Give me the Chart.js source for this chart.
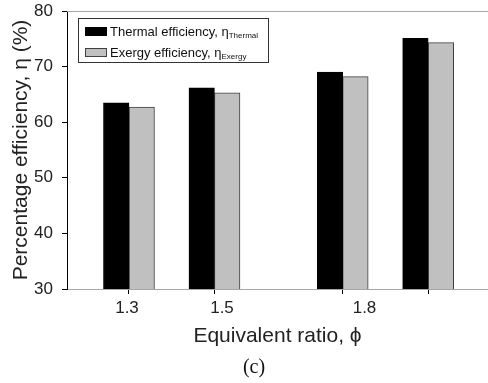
<!DOCTYPE html>
<html>
<head>
<meta charset="utf-8">
<script src="https://cdn.jsdelivr.net/npm/chart.js@4"></script>
<style>
  body { margin: 0; background: #fff; }
</style>
</head>
<body>
<canvas id="effChart" width="488" height="383"></canvas>
<script>
// data
var groupPositions = [1.3, 1.5, 1.8, 2.0];
var tickLabels = ['1.3', '1.5', '1.8'];
var thermalEff = [63.5, 66.2, 69.0, 75.1];
var exergyEff = [62.7, 65.3, 68.2, 74.3];
var yTicks = [30, 40, 50, 60, 70, 80];

function toPoints(values) {
    return values.map(function(v, i) {
        return { x: groupPositions[i], y: v };
    });
}

// fixed box sizes, no extra layout padding from labels
function fixBox(w, h) {
    return function(scale) {
        if (w !== null) scale.width = w;
        if (h !== null) scale.height = h;
        scale.paddingTop = 0;
        scale.paddingBottom = 0;
        scale.paddingLeft = 0;
        scale.paddingRight = 0;
    };
}

var sans = "'Liberation Sans', Arial, sans-serif";

// legend with subscripts + top frame line + caption
var extras = {
    id: 'extras',
    afterDraw: function(chart) {
        var ctx = chart.ctx;
        var area = chart.chartArea;
        ctx.save();

        // top frame line
        ctx.strokeStyle = '#a6a6a6';
        ctx.lineWidth = 1;
        ctx.beginPath();
        ctx.moveTo(area.left, area.top + 0.5);
        ctx.lineTo(area.right, area.top + 0.5);
        ctx.stroke();

        // legend box
        ctx.fillStyle = '#fff';
        ctx.fillRect(78, 18, 190, 44);
        ctx.strokeStyle = '#333';
        ctx.strokeRect(78.5, 18.5, 190, 44);

        var rows = [36, 57];
        chart.data.datasets.forEach(function(ds, i) {
            var base = rows[i];
            ctx.fillStyle = ds.backgroundColor;
            ctx.fillRect(85, base - 8, 22, 8);
            ctx.strokeStyle = ds.borderColor;
            ctx.strokeRect(85.5, base - 8.5, 21, 8);

            ctx.fillStyle = '#111';
            ctx.textBaseline = 'alphabetic';
            ctx.font = '13px ' + sans;
            ctx.fillText(ds.label, 110, base);
            var w = ctx.measureText(ds.label).width;
            ctx.font = '8px ' + sans;
            ctx.fillText(ds.sub, 110 + w, base + 2);
        });

        // caption
        ctx.fillStyle = '#111';
        ctx.font = "20px 'Liberation Serif', 'Times New Roman', serif";
        ctx.textAlign = 'center';
        ctx.textBaseline = 'middle';
        ctx.fillText('(c)', 254, 368);
        ctx.restore();
    }
};

var ctx = document.getElementById('effChart').getContext('2d');
var effChart = new Chart(ctx, {
    type: 'bar',
    data: {
        datasets: [{
            label: 'Thermal efficiency, η',
            sub: 'Thermal',
            data: toPoints(thermalEff),
            backgroundColor: '#000000',
            borderColor: '#000000',
            borderWidth: 1,
            barThickness: 25.5,
            barPercentage: 1
        }, {
            label: 'Exergy efficiency, η',
            sub: 'Exergy',
            data: toPoints(exergyEff),
            backgroundColor: '#c0c0c0',
            borderColor: '#404040',
            borderWidth: 1,
            barThickness: 25.5,
            barPercentage: 1
        }]
    },
    options: {
        responsive: false,
        devicePixelRatio: 1,
        animation: false,
        layout: { padding: { top: 11, right: 0, left: 0, bottom: 0 } },
        plugins: {
            legend: { display: false },
            tooltip: { enabled: false }
        },
        scales: {
            x: {
                type: 'linear',
                position: 'bottom',
                offset: false,
                min: 1.155,
                max: 2.14,
                afterBuildTicks: function(scale) {
                    scale.ticks = groupPositions.map(function(v) { return { value: v }; });
                },
                afterFit: fixBox(null, 6),
                ticks: { maxRotation: 0, autoSkip: false, callback: function() { return ''; } },
                grid: { offset: false, drawOnChartArea: false, drawTicks: true, tickLength: 5, color: '#000' },
                border: { color: '#a6a6a6', width: 1 }
            },
            xLabels: {
                type: 'linear',
                position: 'bottom',
                offset: false,
                min: 1.1737,
                max: 2.06,
                afterBuildTicks: function(scale) {
                    scale.ticks = tickLabels.map(function(l) { return { value: parseFloat(l) }; });
                },
                afterFit: fixBox(null, 88),
                ticks: {
                    padding: 3,
                    maxRotation: 0,
                    minRotation: 0,
                    autoSkip: false,
                    color: '#222',
                    font: { family: sans, size: 17 },
                    callback: function(value) { return value.toFixed(1); }
                },
                grid: { offset: false, display: false, drawTicks: false },
                border: { display: false },
                title: {
                    display: true,
                    text: 'Equivalent ratio, ϕ',
                    color: '#222',
                    font: { family: sans, size: 21 },
                    padding: { top: 0, bottom: 34 }
                }
            },
            y: {
                min: 30,
                max: 80,
                afterBuildTicks: function(scale) {
                    scale.ticks = yTicks.map(function(v) { return { value: v }; });
                },
                afterFit: fixBox(67, null),
                ticks: {
                    padding: 9,
                    color: '#222',
                    font: { family: sans, size: 17 }
                },
                grid: { drawOnChartArea: false, drawTicks: true, tickLength: 5, color: '#000' },
                border: { color: '#000', width: 1 },
                title: {
                    display: true,
                    text: 'Percentage efficiency, η (%)',
                    color: '#222',
                    font: { family: sans, size: 21 },
                    padding: { top: 9, bottom: 0 }
                }
            }
        }
    },
    plugins: [extras]
});
</script>
</body>
</html>
